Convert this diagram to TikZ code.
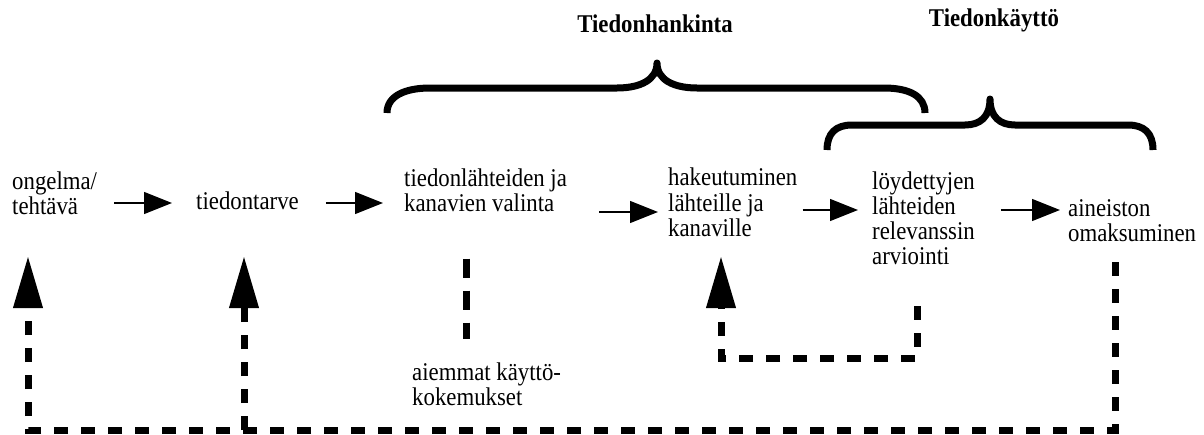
\documentclass[tikz,border=0pt]{standalone}
\usepackage{fontspec}
\usepackage{graphicx}
\setmainfont{Liberation Serif}
\usetikzlibrary{arrows.meta,calc}
\newcommand\stretchtxt[1]{\scalebox{1}[1.12]{\begin{tabular}{@{}l@{}}#1\end{tabular}}}
\begin{document}
\begin{tikzpicture}[x=1pt,y=-1pt,
  txt/.style={font=\fontsize{22.8}{22.3}\selectfont, inner sep=0pt, anchor=west},
  ttl/.style={font=\fontsize{22.8}{22.3}\selectfont\bfseries, inner sep=0pt},
  harr/.style={line width=1.3pt, -{Triangle[length=28pt,width=22pt]}},
  dsh/.style={line width=7pt, dash pattern=on 14pt off 13pt},
  varr/.style={dsh, -{Triangle[length=52pt,width=28pt]}},
  bracestyle/.style={line width=7pt, line join=round}]
\useasboundingbox (0,0) rectangle (1204,434);

% titles
\node[ttl] (t1) at (655,27) {\stretchtxt{Tiedonhankinta}};
\node[ttl] (t2) at (994,21) {\stretchtxt{Tiedonkäyttö}};

% braces
\draw[bracestyle] (387,113) .. controls (387,96) and (405,88) .. (430,88) -- (617,88)
  .. controls (640,88) and (657,80) .. (657,63)
  .. controls (657,80) and (674,88) .. (697,88) -- (884,88)
  .. controls (909,88) and (925,96) .. (925,113);
\draw[bracestyle] (827,150) .. controls (827,133) and (836,125) .. (852,125) -- (965,125)
  .. controls (980,125) and (990,117) .. (990,99)
  .. controls (990,117) and (1000,125) .. (1015,125) -- (1128,125)
  .. controls (1144,125) and (1153,133) .. (1153,150);

% text nodes
\node[txt] (n1) at (12,197) {\stretchtxt{ongelma/\\tehtävä}};
\node[txt] (n2) at (196,204) {\stretchtxt{tiedontarve}};
\node[txt] (n3) at (404,194) {\stretchtxt{tiedonlähteiden ja\\kanavien valinta}};
\node[txt] (n4) at (668,206) {\stretchtxt{hakeutuminen\\lähteille ja\\kanaville}};
\node[txt] (n5) at (872,222) {\stretchtxt{löydettyjen\\lähteiden\\relevanssin\\arviointi}};
\node[txt] (n6) at (1068,224) {\stretchtxt{aineiston\\omaksuminen}};
\node[txt] (n7) at (412,388) {\stretchtxt{aiemmat käyttö-\\kokemukset}};

% solid arrows
\draw[harr] ($(n1.east |- n2.west)+(17,-1)$) -- ($(n2.west)+(-24,-1)$);
\draw[harr] ($(n2.east)+(27,-1)$) -- ($(n3.west |- n2.west)+(-21,-1)$);
\draw[harr] ($(n3.east)+(32,18)$) -- ($(n4.west)+(-10,6)$);
\draw[harr] ($(n4.east)+(5,4)$) -- ($(n5.west)+(-14,-12)$);
\draw[harr] ($(n5.east)+(26,-12)$) -- ($(n6.west)+(-8,-14)$);

% dashed connector from n3 to n7
\draw[dsh, dash pattern=on 19pt off 13pt] ($(n7.north west)+(54,-104)$) -- ($(n7.north west)+(54,-24)$);

% feedback loops
\coordinate (r1) at (1115,262);
\coordinate (r2) at (1115,430);
\coordinate (l1) at (28,430);
\coordinate (l2) at (28,256);
\draw[varr] (r1) -- (r2) -- (l1) -- (l2);
\coordinate (m1) at (244,430);
\coordinate (m2) at (244,256);
\draw[varr] (m1) -- (m2);
\coordinate (s1) at (917,306);
\coordinate (s2) at (917,358);
\coordinate (s3) at (721,358);
\coordinate (s4) at (721,256);
\draw[varr] (s1) -- (s2) -- (s3) -- (s4);
\end{tikzpicture}
\end{document}
